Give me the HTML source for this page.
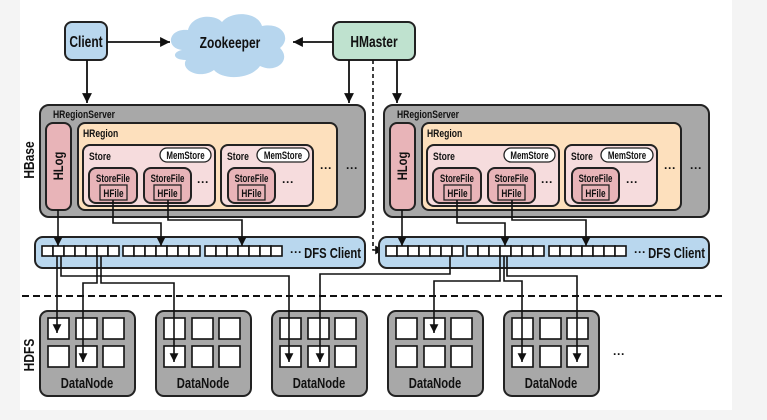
<!DOCTYPE html>
<html><head><meta charset="utf-8"><style>
html,body{margin:0;padding:0;background:#f4f4f4;}
svg{display:block;}
text{font-family:"Liberation Sans",sans-serif;fill:#111;font-weight:bold;}
</style></head><body>
<svg width="767" height="420" viewBox="0 0 767 420" xmlns="http://www.w3.org/2000/svg">
<defs>
<marker id="a" viewBox="0 0 10 10" refX="10" refY="5" markerWidth="5.5" markerHeight="5.5" orient="auto"><path d="M0,0L10,5L0,10z" fill="#111"/></marker>
<g id="sq7">
<rect x="0" y="0" width="11" height="10" fill="#fff" stroke="#111" stroke-width="1.6"/>
<rect x="11" y="0" width="11" height="10" fill="#fff" stroke="#111" stroke-width="1.6"/>
<rect x="22" y="0" width="11" height="10" fill="#fff" stroke="#111" stroke-width="1.6"/>
<rect x="33" y="0" width="11" height="10" fill="#fff" stroke="#111" stroke-width="1.6"/>
<rect x="44" y="0" width="11" height="10" fill="#fff" stroke="#111" stroke-width="1.6"/>
<rect x="55" y="0" width="11" height="10" fill="#fff" stroke="#111" stroke-width="1.6"/>
<rect x="66" y="0" width="11" height="10" fill="#fff" stroke="#111" stroke-width="1.6"/>
</g>
<g id="server">
<rect x="40" y="105" width="325" height="112" rx="9" fill="#a8a8a8" stroke="#222" stroke-width="2"/>
<text x="53" y="118" font-size="11" transform="translate(53 118) scale(0.78 1) translate(-53 -118)">HRegionServer</text>
<rect x="46" y="123" width="25" height="87" rx="7" fill="#e8b4b8" stroke="#222" stroke-width="2"/>
<text transform="translate(63 166) rotate(-90) scale(0.8 1)" font-size="14" text-anchor="middle">HLog</text>
<rect x="78" y="123" width="259" height="87" rx="7" fill="#fde0bd" stroke="#222" stroke-width="2"/>
<text x="83" y="137" font-size="11" transform="translate(83 137) scale(0.78 1) translate(-83 -137)">HRegion</text>
<rect x="83" y="145" width="132" height="61" rx="7" fill="#f6dcdd" stroke="#222" stroke-width="2"/>
<text x="89" y="160" font-size="11" transform="translate(89 160) scale(0.78 1) translate(-89 -160)">Store</text>
<rect x="160" y="148" width="51" height="14" rx="7" fill="#fff" stroke="#222" stroke-width="1.3"/>
<text x="185.5" y="159" font-size="11" text-anchor="middle" transform="translate(185.5 159) scale(0.72 1) translate(-185.5 -159)">MemStore</text>
<rect x="89" y="168" width="48" height="35" rx="7" fill="#e8b4b8" stroke="#222" stroke-width="2"/>
<text x="113" y="182" font-size="11" text-anchor="middle" transform="translate(113 182) scale(0.72 1) translate(-113 -182)">StoreFile</text>
<rect x="100" y="185" width="27" height="15" fill="#e8b4b8" stroke="#222" stroke-width="1.3"/>
<text x="113.5" y="197" font-size="11" text-anchor="middle" transform="translate(113.5 197) scale(0.75 1) translate(-113.5 -197)">HFile</text>
<rect x="144" y="168" width="47" height="35" rx="7" fill="#e8b4b8" stroke="#222" stroke-width="2"/>
<text x="167.5" y="182" font-size="11" text-anchor="middle" transform="translate(167.5 182) scale(0.72 1) translate(-167.5 -182)">StoreFile</text>
<rect x="154" y="185" width="27" height="15" fill="#e8b4b8" stroke="#222" stroke-width="1.3"/>
<text x="167.5" y="197" font-size="11" text-anchor="middle" transform="translate(167.5 197) scale(0.75 1) translate(-167.5 -197)">HFile</text>
<text x="203" y="186" font-size="12" text-anchor="middle">···</text>
<rect x="221" y="145" width="92" height="61" rx="7" fill="#f6dcdd" stroke="#222" stroke-width="2"/>
<text x="227" y="160" font-size="11" transform="translate(227 160) scale(0.78 1) translate(-227 -160)">Store</text>
<rect x="257" y="148" width="52" height="14" rx="7" fill="#fff" stroke="#222" stroke-width="1.3"/>
<text x="283" y="159" font-size="11" text-anchor="middle" transform="translate(283 159) scale(0.72 1) translate(-283 -159)">MemStore</text>
<rect x="228" y="168" width="47" height="35" rx="7" fill="#e8b4b8" stroke="#222" stroke-width="2"/>
<text x="251.5" y="182" font-size="11" text-anchor="middle" transform="translate(251.5 182) scale(0.72 1) translate(-251.5 -182)">StoreFile</text>
<rect x="238" y="185" width="27" height="15" fill="#e8b4b8" stroke="#222" stroke-width="1.3"/>
<text x="251.5" y="197" font-size="11" text-anchor="middle" transform="translate(251.5 197) scale(0.75 1) translate(-251.5 -197)">HFile</text>
<text x="288" y="186" font-size="12" text-anchor="middle">···</text>
<text x="326" y="172" font-size="12" text-anchor="middle">···</text>
<text x="352" y="172" font-size="12" text-anchor="middle">···</text>
<rect x="35" y="237" width="330" height="31" rx="8" fill="#b9d7ee" stroke="#222" stroke-width="2"/>
<use href="#sq7" x="42" y="246"/>
<use href="#sq7" x="123" y="246"/>
<use href="#sq7" x="205" y="246"/>
<text x="290" y="256" font-size="12">···</text>
<text x="361" y="258" font-size="15" text-anchor="end" transform="translate(361 258) scale(0.75 1) translate(-361 -258)">DFS Client</text>
<g fill="none" stroke="#111" stroke-width="1.6" marker-end="url(#a)">
<path d="M58 210V246"/>
<path d="M113 200V223H161V246"/>
<path d="M168 200V220H242V246"/>
</g>
</g>
</defs>
<rect x="20" y="0" width="712" height="410" fill="#fff"/>
<rect x="65" y="22" width="42" height="38" rx="7" fill="#b9d7ee" stroke="#222" stroke-width="2"/>
<text x="86" y="47" font-size="16" text-anchor="middle" transform="translate(86 47) scale(0.75 1) translate(-86 -47)">Client</text>
<path d="M182 50 C165 48 168 28 188 30 C192 14 215 14 222 22 C232 10 258 12 262 26 C282 22 292 38 280 48 C292 60 276 74 260 66 C250 80 222 80 214 70 C200 80 180 70 186 60 C172 60 172 52 182 50 Z" fill="#b7d6ee"/>
<text x="230" y="48" font-size="16" text-anchor="middle" transform="translate(230 48) scale(0.75 1) translate(-230 -48)">Zookeeper</text>
<rect x="333" y="22" width="82" height="38" rx="7" fill="#bfe2cf" stroke="#222" stroke-width="2"/>
<text x="374" y="47" font-size="16" text-anchor="middle" transform="translate(374 47) scale(0.75 1) translate(-374 -47)">HMaster</text>
<g fill="none" stroke="#111" stroke-width="1.8" marker-end="url(#a)">
<path d="M107 42H170"/>
<path d="M333 42H293"/>
<path d="M87 60V103"/>
<path d="M349 60V103"/>
<path d="M397 60V103"/>
</g>
<path d="M373 60V250H384" fill="none" stroke="#111" stroke-width="1.6" stroke-dasharray="4 3" marker-end="url(#a)"/>
<text transform="translate(34 160) rotate(-90) scale(0.8 1)" font-size="15" text-anchor="middle">HBase</text>
<use href="#server"/>
<use href="#server" x="344"/>
<path d="M22 296H726" stroke="#111" stroke-width="2" stroke-dasharray="7 4"/>
<text transform="translate(34 355) rotate(-90) scale(0.8 1)" font-size="15" text-anchor="middle">HDFS</text>
<g id="dn">
<rect x="40" y="311" width="95" height="85" rx="8" fill="#a8a8a8" stroke="#222" stroke-width="2"/>
<g fill="#fff" stroke="#111" stroke-width="1.6">
<rect x="48" y="318" width="21" height="21"/><rect x="76" y="318" width="21" height="21"/><rect x="103" y="318" width="21" height="21"/>
<rect x="48" y="346" width="21" height="21"/><rect x="76" y="346" width="21" height="21"/><rect x="103" y="346" width="21" height="21"/>
</g>
<text x="87" y="388" font-size="15" text-anchor="middle" transform="translate(87 388) scale(0.75 1) translate(-87 -388)">DataNode</text>
</g>
<use href="#dn" x="116"/>
<use href="#dn" x="232"/>
<use href="#dn" x="348"/>
<use href="#dn" x="464"/>
<text x="613" y="358" font-size="12">···</text>
<g fill="none" stroke="#111" stroke-width="1.6" marker-end="url(#a)">
<path d="M57 256V333"/>
<path d="M61 256V276H289V362"/>
<path d="M97 256V283H83V362"/>
<path d="M101 256V283H174V362"/>
<path d="M450 256V274H320V362"/>
<path d="M500 256V281H434V333"/>
<path d="M504 256V281H522V362"/>
<path d="M507 256V276H577V362"/>
</g>
</svg>
</body></html>
